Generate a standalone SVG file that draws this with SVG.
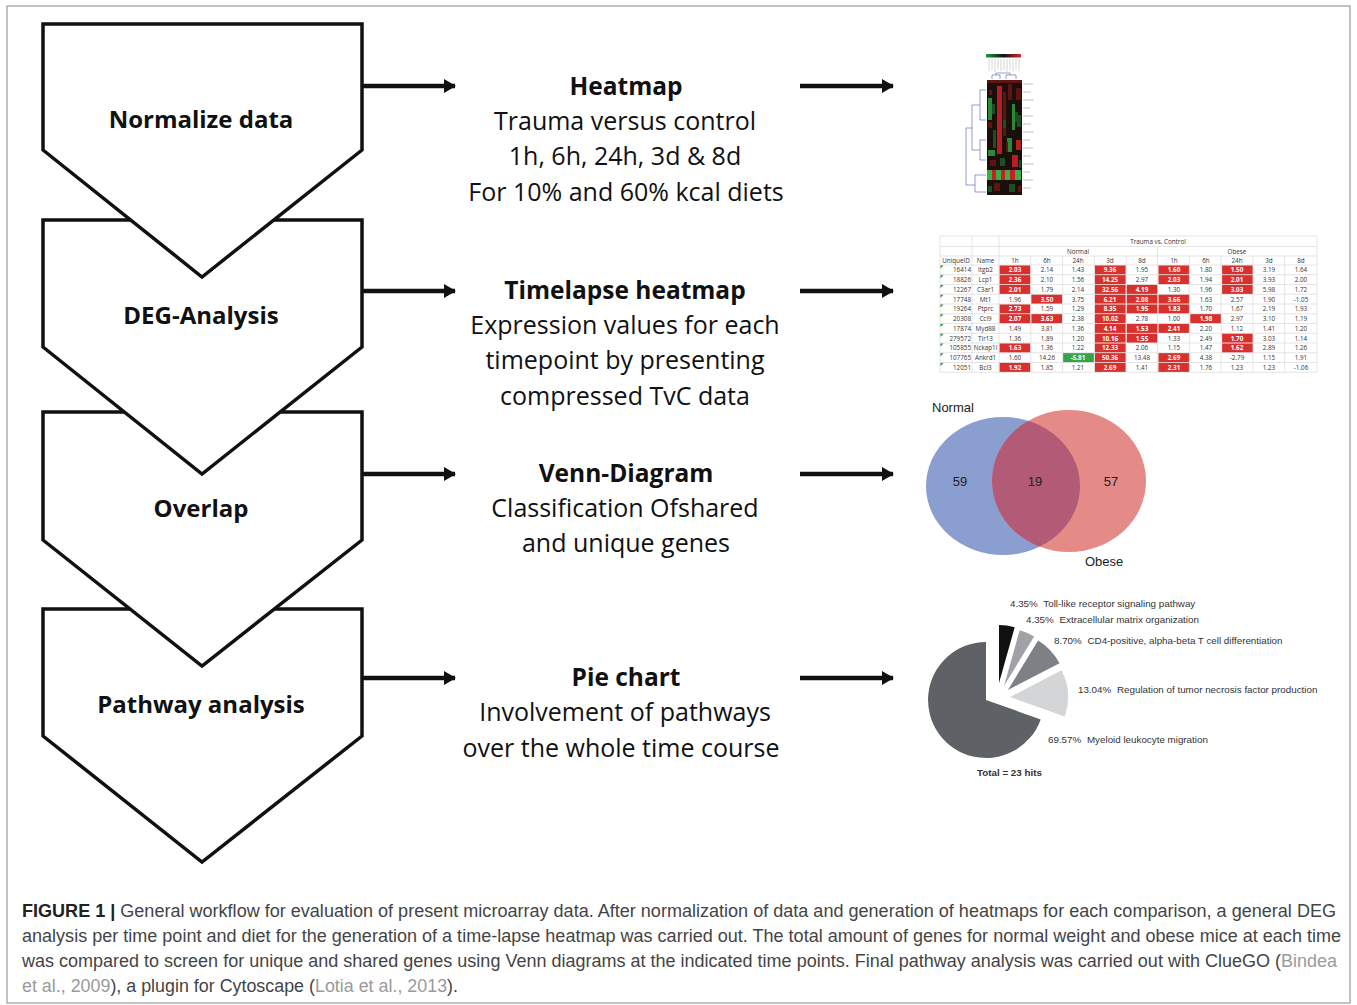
<svg xmlns="http://www.w3.org/2000/svg" width="1357" height="1005" viewBox="0 0 1357 1005">
<defs>
<style>
.shape{fill:#fff;stroke:#111;stroke-width:3.5;stroke-linejoin:miter}
.lbl{font-family:"Open Sans","Noto Sans",sans-serif;font-weight:bold;font-size:24px;fill:#111;text-anchor:middle}
.hd{font-family:"Open Sans","Noto Sans",sans-serif;font-weight:bold;font-size:24.5px;fill:#111;text-anchor:middle}
.bd{font-family:"Open Sans","Noto Sans",sans-serif;font-size:25px;fill:#111;text-anchor:middle}
.conn line{stroke:#111;stroke-width:4.5}
.tt{font-family:"Open Sans","Liberation Sans",sans-serif;font-size:6.3px;fill:#333;text-anchor:middle}
.tw{font-family:"Open Sans","Liberation Sans",sans-serif;font-size:6.3px;fill:#fff;font-weight:bold;text-anchor:middle}
.tr{font-family:"Open Sans","Liberation Sans",sans-serif;font-size:6.3px;fill:#333;text-anchor:end}
.tl{font-family:"Open Sans","Liberation Sans",sans-serif;font-size:6.3px;fill:#333;text-anchor:middle}
.grid line{stroke:#d4d4d4;stroke-width:0.6}
.red{fill:#d8302d}
.pl{font-family:"Liberation Sans",Arial,sans-serif;font-size:9.8px;fill:#333}
.vn{font-family:"Liberation Sans",Arial,sans-serif;font-size:13px;fill:#222}
.cap{font-family:"Liberation Sans",Arial,sans-serif;font-size:17.5px;fill:#444}
.ref{fill:#9a9a9a}
.hr{fill:#b51e24}.hg{fill:#2a8a38}.hdr{fill:#5e1512}.hdg{fill:#1c4f22}
</style>
<marker id="ah" viewBox="0 0 12 14" refX="11" refY="7" markerWidth="12" markerHeight="14" markerUnits="userSpaceOnUse" orient="auto">
<path d="M0,0 L12,7 L0,14 Z" fill="#111"/>
</marker>
<clipPath id="blueClip"><ellipse cx="1003" cy="486" rx="77" ry="69"/></clipPath>
<linearGradient id="cbar" x1="0" x2="1" y1="0" y2="0">
<stop offset="0" stop-color="#1f9a3a"/><stop offset="0.5" stop-color="#111"/><stop offset="1" stop-color="#e0262a"/>
</linearGradient>
</defs>
<rect x="7" y="6" width="1343" height="997" fill="#fff" stroke="#999" stroke-width="1.2"/>

<!-- process nodes (drawn bottom to top so upper points overlap lower shapes) -->
<g id="node-pathway">
<polygon class="shape" points="43,609 362,609 362,736 202,862 43,736"/>
<text class="lbl" x="201" y="713">Pathway analysis</text>
</g>
<g id="node-overlap">
<polygon class="shape" points="43,412 362,412 362,540 202,666 43,540"/>
<text class="lbl" x="201" y="517">Overlap</text>
</g>
<g id="node-deg">
<polygon class="shape" points="43,220 362,220 362,347 202,474 43,347"/>
<text class="lbl" x="201" y="324">DEG-Analysis</text>
</g>
<g id="node-normalize">
<polygon class="shape" points="43,24 362,24 362,150 202,277 43,150"/>
<text class="lbl" x="201" y="128">Normalize data</text>
</g>

<!-- connectors -->
<g id="connectors" class="conn">
<line x1="362" y1="86" x2="455" y2="86" marker-end="url(#ah)"/>
<line x1="362" y1="291" x2="455" y2="291" marker-end="url(#ah)"/>
<line x1="362" y1="474" x2="455" y2="474" marker-end="url(#ah)"/>
<line x1="362" y1="678" x2="455" y2="678" marker-end="url(#ah)"/>
<line x1="800" y1="86" x2="893" y2="86" marker-end="url(#ah)"/>
<line x1="800" y1="291" x2="893" y2="291" marker-end="url(#ah)"/>
<line x1="800" y1="474" x2="893" y2="474" marker-end="url(#ah)"/>
<line x1="800" y1="678" x2="893" y2="678" marker-end="url(#ah)"/>
</g>

<!-- description nodes -->
<g id="desc-heatmap">
<text class="hd" x="626" y="95">Heatmap</text>
<text class="bd" x="625" y="130">Trauma versus control</text>
<text class="bd" x="625" y="165">1h, 6h, 24h, 3d &amp; 8d</text>
<text class="bd" x="626" y="201">For 10% and 60% kcal diets</text>
</g>
<g id="desc-timelapse">
<text class="hd" x="625" y="299">Timelapse heatmap</text>
<text class="bd" x="625" y="334">Expression values for each</text>
<text class="bd" x="625" y="369">timepoint by presenting</text>
<text class="bd" x="625" y="405">compressed TvC data</text>
</g>
<g id="desc-venn">
<text class="hd" x="626" y="482">Venn-Diagram</text>
<text class="bd" x="625" y="517">Classification Ofshared</text>
<text class="bd" x="626" y="552">and unique genes</text>
</g>
<g id="desc-pie">
<text class="hd" x="626" y="686">Pie chart</text>
<text class="bd" x="625" y="721">Involvement of pathways</text>
<text class="bd" x="621" y="757">over the whole time course</text>
</g>

<!-- heatmap thumbnail -->
<g id="heatmap-thumb">
<rect x="986" y="54" width="35" height="3.5" fill="url(#cbar)"/>
<g stroke="#bbb" stroke-width="0.6">
<line x1="989" y1="59" x2="989" y2="71"/><line x1="992" y1="59" x2="992" y2="70"/><line x1="995" y1="59" x2="995" y2="72"/>
<line x1="998" y1="59" x2="998" y2="69"/><line x1="1001" y1="59" x2="1001" y2="71"/><line x1="1004" y1="59" x2="1004" y2="70"/>
<line x1="1007" y1="59" x2="1007" y2="72"/><line x1="1010" y1="59" x2="1010" y2="70"/><line x1="1013" y1="59" x2="1013" y2="71"/>
<line x1="1016" y1="59" x2="1016" y2="69"/><line x1="1019" y1="59" x2="1019" y2="71"/>
</g>
<g stroke="#6670b8" stroke-width="0.7" fill="none">
<path d="M992,79 V75 H1000 V79 M996,75 V73 H1010 V75 M1006,75 H1016 V79 M1006,75 V79"/>
<path d="M986,90 H980 V120 H986 M980,105 H972 V150 H980 M980,150 V140 H986 M980,150 V160 H986 M972,128 H966 V185 H975 V175 H986 M975,185 V192 H986"/>
</g>
<rect x="987" y="80" width="35" height="115" fill="#1b0f0c"/>
<rect class="hdr" x="987" y="80" width="35" height="3"/>
<rect class="hr" x="997" y="86" width="5" height="68"/>
<rect class="hdr" x="1003" y="92" width="3" height="44"/>
<rect class="hg" x="988" y="98" width="4" height="22"/>
<rect class="hdg" x="992" y="104" width="3" height="10"/>
<rect class="hdg" x="993" y="130" width="3" height="18"/>
<rect class="hdr" x="1008" y="84" width="4" height="16"/>
<rect class="hg" x="1012" y="104" width="3" height="26"/>
<rect class="hdg" x="1015" y="112" width="3" height="10"/>
<rect class="hdr" x="1016" y="88" width="5" height="12"/>
<rect class="hg" x="1007" y="138" width="5" height="14"/>
<rect class="hr" x="1016" y="140" width="5" height="10"/>
<rect class="hg" x="988" y="150" width="7" height="6"/>
<rect class="hr" x="1012" y="155" width="6" height="12"/>
<rect class="hdr" x="990" y="160" width="6" height="6"/>
<rect class="hdg" x="1000" y="158" width="5" height="8"/>
<rect x="987" y="170" width="5" height="10" fill="#37b04a"/>
<rect x="992" y="170" width="4" height="10" fill="#c52026"/>
<rect x="996" y="170" width="5" height="10" fill="#37b04a"/>
<rect x="1001" y="170" width="4" height="10" fill="#c52026"/>
<rect x="1005" y="170" width="5" height="10" fill="#37b04a"/>
<rect x="1010" y="170" width="5" height="10" fill="#c52026"/>
<rect x="1015" y="170" width="6" height="10" fill="#37b04a"/>
<rect class="hdr" x="994" y="183" width="6" height="8"/>
<rect class="hdg" x="1009" y="184" width="6" height="8"/>
<rect class="hdr" x="988" y="122" width="4" height="6"/>
<rect class="hdg" x="1017" y="115" width="4" height="12"/>
<rect class="hdr" x="1006" y="142" width="2" height="10"/>
<rect class="hdg" x="1003" y="120" width="3" height="8"/>
<rect class="hdr" x="989" y="90" width="3" height="5"/>
<rect class="hdg" x="1019" y="160" width="2" height="8"/>
<rect class="hdr" x="1018" y="186" width="3" height="6"/>
<rect class="hdg" x="988" y="186" width="4" height="6"/>
<g stroke="#999" stroke-width="0.6">
<line x1="1023" y1="84" x2="1033" y2="84"/><line x1="1023" y1="92" x2="1031" y2="92"/><line x1="1023" y1="100" x2="1034" y2="100"/>
<line x1="1023" y1="108" x2="1030" y2="108"/><line x1="1023" y1="116" x2="1033" y2="116"/><line x1="1023" y1="124" x2="1031" y2="124"/>
<line x1="1023" y1="132" x2="1034" y2="132"/><line x1="1023" y1="140" x2="1030" y2="140"/><line x1="1023" y1="148" x2="1033" y2="148"/>
<line x1="1023" y1="156" x2="1031" y2="156"/><line x1="1023" y1="164" x2="1034" y2="164"/><line x1="1023" y1="172" x2="1030" y2="172"/>
<line x1="1023" y1="180" x2="1033" y2="180"/><line x1="1023" y1="188" x2="1031" y2="188"/>
</g>
</g>

<!-- timelapse table -->
<g id="table">
<g class="red-cells">
<rect class="red" x="999.5" y="265.3" width="30.8" height="9.2"/><rect class="red" x="1094.9" y="265.3" width="30.8" height="9.2"/><rect class="red" x="1158.5" y="265.3" width="30.8" height="9.2"/><rect class="red" x="1222.1" y="265.3" width="30.8" height="9.2"/>
<rect class="red" x="999.5" y="275.05" width="30.8" height="9.2"/><rect class="red" x="1094.9" y="275.05" width="30.8" height="9.2"/><rect class="red" x="1158.5" y="275.05" width="30.8" height="9.2"/><rect class="red" x="1222.1" y="275.05" width="30.8" height="9.2"/>
<rect class="red" x="999.5" y="284.8" width="30.8" height="9.2"/><rect class="red" x="1094.9" y="284.8" width="30.8" height="9.2"/><rect class="red" x="1126.7" y="284.8" width="30.8" height="9.2"/><rect class="red" x="1222.1" y="284.8" width="30.8" height="9.2"/>
<rect class="red" x="1031.3" y="294.55" width="30.8" height="9.2"/><rect class="red" x="1094.9" y="294.55" width="30.8" height="9.2"/><rect class="red" x="1126.7" y="294.55" width="30.8" height="9.2"/><rect class="red" x="1158.5" y="294.55" width="30.8" height="9.2"/>
<rect class="red" x="999.5" y="304.3" width="30.8" height="9.2"/><rect class="red" x="1094.9" y="304.3" width="30.8" height="9.2"/><rect class="red" x="1126.7" y="304.3" width="30.8" height="9.2"/><rect class="red" x="1158.5" y="304.3" width="30.8" height="9.2"/>
<rect class="red" x="999.5" y="314.05" width="30.8" height="9.2"/><rect class="red" x="1031.3" y="314.05" width="30.8" height="9.2"/><rect class="red" x="1094.9" y="314.05" width="30.8" height="9.2"/><rect class="red" x="1190.3" y="314.05" width="30.8" height="9.2"/>
<rect class="red" x="1094.9" y="323.8" width="30.8" height="9.2"/><rect class="red" x="1126.7" y="323.8" width="30.8" height="9.2"/><rect class="red" x="1158.5" y="323.8" width="30.8" height="9.2"/>
<rect class="red" x="1094.9" y="333.55" width="30.8" height="9.2"/><rect class="red" x="1126.7" y="333.55" width="30.8" height="9.2"/><rect class="red" x="1222.1" y="333.55" width="30.8" height="9.2"/>
<rect class="red" x="999.5" y="343.3" width="30.8" height="9.2"/><rect class="red" x="1094.9" y="343.3" width="30.8" height="9.2"/><rect class="red" x="1222.1" y="343.3" width="30.8" height="9.2"/>
<rect x="1063.1" y="353.05" width="30.8" height="9.2" fill="#35a449"/><rect class="red" x="1094.9" y="353.05" width="30.8" height="9.2"/><rect class="red" x="1158.5" y="353.05" width="30.8" height="9.2"/>
<rect class="red" x="999.5" y="362.8" width="30.8" height="9.2"/><rect class="red" x="1094.9" y="362.8" width="30.8" height="9.2"/><rect class="red" x="1158.5" y="362.8" width="30.8" height="9.2"/>
</g>
<g class="grid">
<line x1="940" y1="236" x2="1317" y2="236"/>
<line x1="940" y1="246.5" x2="1317" y2="246.5"/>
<line x1="940" y1="256" x2="1317" y2="256"/>
<line x1="940" y1="265" x2="1317" y2="265"/>
<line x1="940" y1="274.75" x2="1317" y2="274.75"/>
<line x1="940" y1="284.5" x2="1317" y2="284.5"/>
<line x1="940" y1="294.25" x2="1317" y2="294.25"/>
<line x1="940" y1="304" x2="1317" y2="304"/>
<line x1="940" y1="313.75" x2="1317" y2="313.75"/>
<line x1="940" y1="323.5" x2="1317" y2="323.5"/>
<line x1="940" y1="333.25" x2="1317" y2="333.25"/>
<line x1="940" y1="343" x2="1317" y2="343"/>
<line x1="940" y1="352.75" x2="1317" y2="352.75"/>
<line x1="940" y1="362.5" x2="1317" y2="362.5"/>
<line x1="940" y1="372.25" x2="1317" y2="372.25"/>
<line x1="940" y1="236" x2="940" y2="372.25"/>
<line x1="972" y1="236" x2="972" y2="372.25"/>
<line x1="999" y1="236" x2="999" y2="372.25"/>
<line x1="1157.5" y1="246.5" x2="1157.5" y2="372.25"/>
<line x1="1317" y1="236" x2="1317" y2="372.25"/>
<line x1="1030.8" y1="256" x2="1030.8" y2="372.25"/>
<line x1="1062.6" y1="256" x2="1062.6" y2="372.25"/>
<line x1="1094.4" y1="256" x2="1094.4" y2="372.25"/>
<line x1="1126.2" y1="256" x2="1126.2" y2="372.25"/>
<line x1="1189.3" y1="256" x2="1189.3" y2="372.25"/>
<line x1="1221.1" y1="256" x2="1221.1" y2="372.25"/>
<line x1="1252.9" y1="256" x2="1252.9" y2="372.25"/>
<line x1="1284.7" y1="256" x2="1284.7" y2="372.25"/>
</g>
<g fill="#2e8b3a">
<path d="M940.5,265.5 h3 l-3,3 z"/><path d="M940.5,275.25 h3 l-3,3 z"/><path d="M940.5,285 h3 l-3,3 z"/><path d="M940.5,294.75 h3 l-3,3 z"/>
<path d="M940.5,304.5 h3 l-3,3 z"/><path d="M940.5,314.25 h3 l-3,3 z"/><path d="M940.5,324 h3 l-3,3 z"/><path d="M940.5,333.75 h3 l-3,3 z"/>
<path d="M940.5,343.5 h3 l-3,3 z"/><path d="M940.5,353.25 h3 l-3,3 z"/><path d="M940.5,363 h3 l-3,3 z"/>
</g>
<text class="tl" x="1158" y="243.5">Trauma vs. Control</text>
<text class="tl" x="1078" y="253.5">Normal</text>
<text class="tl" x="1237" y="253.5">Obese</text>
<text class="tl" x="956" y="263">UniqueID</text><text class="tl" x="985.5" y="263">Name</text>
<text class="tl" x="1015" y="263">1h</text><text class="tl" x="1047" y="263">6h</text><text class="tl" x="1078" y="263">24h</text><text class="tl" x="1110" y="263">3d</text><text class="tl" x="1142" y="263">8d</text>
<text class="tl" x="1174" y="263">1h</text><text class="tl" x="1206" y="263">6h</text><text class="tl" x="1237" y="263">24h</text><text class="tl" x="1269" y="263">3d</text><text class="tl" x="1301" y="263">8d</text>
<!-- row 0 -->
<text class="tr" x="971" y="272.3">16414</text><text class="tl" x="985.5" y="272.3">Itgb2</text>
<text class="tw" x="1015" y="272.3">2.03</text><text class="tt" x="1047" y="272.3">2.14</text><text class="tt" x="1078" y="272.3">1.43</text><text class="tw" x="1110" y="272.3">9.36</text><text class="tt" x="1142" y="272.3">1.95</text>
<text class="tw" x="1174" y="272.3">1.60</text><text class="tt" x="1206" y="272.3">1.80</text><text class="tw" x="1237" y="272.3">1.50</text><text class="tt" x="1269" y="272.3">3.19</text><text class="tt" x="1301" y="272.3">1.64</text>
<!-- row 1 -->
<text class="tr" x="971" y="282.05">18826</text><text class="tl" x="985.5" y="282.05">Lcp1</text>
<text class="tw" x="1015" y="282.05">2.36</text><text class="tt" x="1047" y="282.05">2.10</text><text class="tt" x="1078" y="282.05">1.56</text><text class="tw" x="1110" y="282.05">14.25</text><text class="tt" x="1142" y="282.05">2.97</text>
<text class="tw" x="1174" y="282.05">2.03</text><text class="tt" x="1206" y="282.05">1.94</text><text class="tw" x="1237" y="282.05">2.01</text><text class="tt" x="1269" y="282.05">3.93</text><text class="tt" x="1301" y="282.05">2.00</text>
<!-- row 2 -->
<text class="tr" x="971" y="291.8">12267</text><text class="tl" x="985.5" y="291.8">C3ar1</text>
<text class="tw" x="1015" y="291.8">2.01</text><text class="tt" x="1047" y="291.8">1.79</text><text class="tt" x="1078" y="291.8">2.14</text><text class="tw" x="1110" y="291.8">32.56</text><text class="tw" x="1142" y="291.8">4.19</text>
<text class="tt" x="1174" y="291.8">1.30</text><text class="tt" x="1206" y="291.8">1.96</text><text class="tw" x="1237" y="291.8">3.03</text><text class="tt" x="1269" y="291.8">5.98</text><text class="tt" x="1301" y="291.8">1.72</text>
<!-- row 3 -->
<text class="tr" x="971" y="301.55">17748</text><text class="tl" x="985.5" y="301.55">Mt1</text>
<text class="tt" x="1015" y="301.55">1.96</text><text class="tw" x="1047" y="301.55">3.50</text><text class="tt" x="1078" y="301.55">3.75</text><text class="tw" x="1110" y="301.55">6.21</text><text class="tw" x="1142" y="301.55">2.08</text>
<text class="tw" x="1174" y="301.55">3.66</text><text class="tt" x="1206" y="301.55">1.63</text><text class="tt" x="1237" y="301.55">2.57</text><text class="tt" x="1269" y="301.55">1.90</text><text class="tt" x="1301" y="301.55">-1.05</text>
<!-- row 4 -->
<text class="tr" x="971" y="311.3">19264</text><text class="tl" x="985.5" y="311.3">Ptprc</text>
<text class="tw" x="1015" y="311.3">2.73</text><text class="tt" x="1047" y="311.3">1.59</text><text class="tt" x="1078" y="311.3">1.29</text><text class="tw" x="1110" y="311.3">8.35</text><text class="tw" x="1142" y="311.3">1.95</text>
<text class="tw" x="1174" y="311.3">1.83</text><text class="tt" x="1206" y="311.3">1.70</text><text class="tt" x="1237" y="311.3">1.67</text><text class="tt" x="1269" y="311.3">2.19</text><text class="tt" x="1301" y="311.3">1.93</text>
<!-- row 5 -->
<text class="tr" x="971" y="321.05">20308</text><text class="tl" x="985.5" y="321.05">Ccl9</text>
<text class="tw" x="1015" y="321.05">2.07</text><text class="tw" x="1047" y="321.05">3.63</text><text class="tt" x="1078" y="321.05">2.38</text><text class="tw" x="1110" y="321.05">10.02</text><text class="tt" x="1142" y="321.05">2.78</text>
<text class="tt" x="1174" y="321.05">1.00</text><text class="tw" x="1206" y="321.05">1.98</text><text class="tt" x="1237" y="321.05">2.97</text><text class="tt" x="1269" y="321.05">3.10</text><text class="tt" x="1301" y="321.05">1.19</text>
<!-- row 6 -->
<text class="tr" x="971" y="330.8">17874</text><text class="tl" x="985.5" y="330.8">Myd88</text>
<text class="tt" x="1015" y="330.8">1.49</text><text class="tt" x="1047" y="330.8">3.81</text><text class="tt" x="1078" y="330.8">1.36</text><text class="tw" x="1110" y="330.8">4.14</text><text class="tw" x="1142" y="330.8">1.53</text>
<text class="tw" x="1174" y="330.8">2.41</text><text class="tt" x="1206" y="330.8">2.20</text><text class="tt" x="1237" y="330.8">1.12</text><text class="tt" x="1269" y="330.8">1.41</text><text class="tt" x="1301" y="330.8">1.20</text>
<!-- row 7 -->
<text class="tr" x="971" y="340.55">279572</text><text class="tl" x="985.5" y="340.55">Tlr13</text>
<text class="tt" x="1015" y="340.55">1.36</text><text class="tt" x="1047" y="340.55">1.89</text><text class="tt" x="1078" y="340.55">1.20</text><text class="tw" x="1110" y="340.55">10.16</text><text class="tw" x="1142" y="340.55">1.55</text>
<text class="tt" x="1174" y="340.55">1.33</text><text class="tt" x="1206" y="340.55">2.49</text><text class="tw" x="1237" y="340.55">1.70</text><text class="tt" x="1269" y="340.55">3.03</text><text class="tt" x="1301" y="340.55">1.14</text>
<!-- row 8 -->
<text class="tr" x="971" y="350.3">105855</text><text class="tl" x="985.5" y="350.3">Nckap1l</text>
<text class="tw" x="1015" y="350.3">1.63</text><text class="tt" x="1047" y="350.3">1.36</text><text class="tt" x="1078" y="350.3">1.22</text><text class="tw" x="1110" y="350.3">12.33</text><text class="tt" x="1142" y="350.3">2.06</text>
<text class="tt" x="1174" y="350.3">1.15</text><text class="tt" x="1206" y="350.3">1.47</text><text class="tw" x="1237" y="350.3">1.62</text><text class="tt" x="1269" y="350.3">2.89</text><text class="tt" x="1301" y="350.3">1.26</text>
<!-- row 9 -->
<text class="tr" x="971" y="360.05">107765</text><text class="tl" x="985.5" y="360.05">Ankrd1</text>
<text class="tt" x="1015" y="360.05">1.60</text><text class="tt" x="1047" y="360.05">14.26</text><text class="tw" x="1078" y="360.05">-5.81</text><text class="tw" x="1110" y="360.05">50.36</text><text class="tt" x="1142" y="360.05">13.48</text>
<text class="tw" x="1174" y="360.05">2.69</text><text class="tt" x="1206" y="360.05">4.38</text><text class="tt" x="1237" y="360.05">-2.79</text><text class="tt" x="1269" y="360.05">1.15</text><text class="tt" x="1301" y="360.05">1.91</text>
<!-- row 10 -->
<text class="tr" x="971" y="369.8">12051</text><text class="tl" x="985.5" y="369.8">Bcl3</text>
<text class="tw" x="1015" y="369.8">1.92</text><text class="tt" x="1047" y="369.8">1.85</text><text class="tt" x="1078" y="369.8">1.21</text><text class="tw" x="1110" y="369.8">2.69</text><text class="tt" x="1142" y="369.8">1.41</text>
<text class="tw" x="1174" y="369.8">2.31</text><text class="tt" x="1206" y="369.8">1.76</text><text class="tt" x="1237" y="369.8">1.23</text><text class="tt" x="1269" y="369.8">1.23</text><text class="tt" x="1301" y="369.8">-1.06</text>
</g>

<!-- venn -->
<g id="venn">
<ellipse cx="1003" cy="486" rx="77" ry="69" fill="#8a9fcf"/>
<ellipse cx="1069" cy="481" rx="77" ry="71" fill="#e48a87"/>
<ellipse cx="1069" cy="481" rx="77" ry="71" fill="#b25a76" clip-path="url(#blueClip)"/>
<text class="vn" x="932" y="412">Normal</text>
<text class="vn" x="960" y="486" text-anchor="middle">59</text>
<text class="vn" x="1035" y="486" text-anchor="middle">19</text>
<text class="vn" x="1111" y="486" text-anchor="middle">57</text>
<text class="vn" x="1085" y="566">Obese</text>
</g>

<!-- pie -->
<g id="pie">
<path d="M986,700 L986,642 A58,58 0 1 0 1040.7,719.4 Z" fill="#5e6266"/>
<path d="M999,683 L999,625 A58,58 0 0 1 1014.7,627.2 Z" fill="#111"/>
<path d="M1004,686 L1019.7,630.2 A58,58 0 0 1 1034.1,636.4 Z" fill="#a0a2a5"/>
<path d="M1008,690 L1038.1,640.4 A58,58 0 0 1 1059.5,663.3 Z" fill="#7d8084"/>
<path d="M1010,697 L1061.5,670.3 A58,58 0 0 1 1064.7,716.4 Z" fill="#d3d5d7"/>
<text class="pl" x="1010" y="607">4.35%<tspan dx="3"> Toll-like receptor signaling pathway</tspan></text>
<text class="pl" x="1026" y="623">4.35%<tspan dx="3"> Extracellular matrix organization</tspan></text>
<text class="pl" x="1054" y="644">8.70%<tspan dx="3"> CD4-positive, alpha-beta T cell differentiation</tspan></text>
<text class="pl" x="1078" y="693">13.04%<tspan dx="3"> Regulation of tumor necrosis factor production</tspan></text>
<text class="pl" x="1048" y="743">69.57%<tspan dx="3"> Myeloid leukocyte migration</tspan></text>
<text class="pl" x="977" y="776" font-weight="bold" fill="#111">Total = 23 hits</text>
</g>

<!-- caption -->
<g id="caption">
<text class="cap" x="22" y="917" textLength="1314" lengthAdjust="spacingAndGlyphs"><tspan font-weight="bold" fill="#222">FIGURE 1 |</tspan> General workflow for evaluation of present microarray data. After normalization of data and generation of heatmaps for each comparison, a general DEG</text>
<text class="cap" x="22" y="942" textLength="1319" lengthAdjust="spacingAndGlyphs">analysis per time point and diet for the generation of a time-lapse heatmap was carried out. The total amount of genes for normal weight and obese mice at each time</text>
<text class="cap" x="22" y="967" textLength="1315" lengthAdjust="spacingAndGlyphs">was compared to screen for unique and shared genes using Venn diagrams at the indicated time points. Final pathway analysis was carried out with ClueGO (<tspan class="ref">Bindea</tspan></text>
<text class="cap" x="22" y="992" textLength="436" lengthAdjust="spacingAndGlyphs"><tspan class="ref">et al., 2009</tspan>), a plugin for Cytoscape (<tspan class="ref">Lotia et al., 2013</tspan>).</text>
</g>
</svg>
